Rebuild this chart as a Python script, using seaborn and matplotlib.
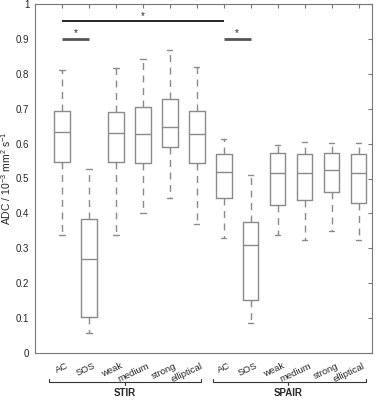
import matplotlib
matplotlib.use("Agg")
import matplotlib.pyplot as plt
import matplotlib.transforms as mtransforms
import seaborn as sns

categories = ["AC", "SOS", "weak", "medium", "strong", "elliptical",
              "AC", "SOS", "weak", "medium", "strong", "elliptical"]
groups = ["STIR", "SPAIR"]
whisker_hi = [0.812, 0.527, 0.817, 0.842, 0.868, 0.820,
              0.612, 0.509, 0.597, 0.605, 0.603, 0.601]
q3 = [0.693, 0.385, 0.690, 0.706, 0.727, 0.692,
      0.571, 0.374, 0.572, 0.570, 0.572, 0.569]
median = [0.632, 0.268, 0.629, 0.627, 0.647, 0.627,
          0.518, 0.309, 0.517, 0.515, 0.523, 0.517]
q1 = [0.546, 0.104, 0.546, 0.545, 0.591, 0.545,
      0.443, 0.151, 0.423, 0.437, 0.460, 0.429]
whisker_lo = [0.338, 0.058, 0.338, 0.402, 0.443, 0.369,
              0.330, 0.086, 0.337, 0.324, 0.349, 0.324]
yticks = [0, 0.1, 0.2, 0.3, 0.4, 0.5, 0.6, 0.7, 0.8, 0.9, 1.0]

sns.set_style("white")
plt.rcParams["font.family"] = ["Liberation Sans", "DejaVu Sans"]
plt.rcParams["mathtext.fontset"] = "custom"
plt.rcParams["mathtext.rm"] = "Liberation Sans"
plt.rcParams["mathtext.it"] = "Liberation Sans"

fig = plt.figure(figsize=(3.8, 4.0), dpi=100)
ax = fig.add_axes([35/380, 47/400, 337/380, 349/400])

gray = "#8a8a8a"
stats = []
for i in range(len(categories)):
    stats.append(dict(whislo=whisker_lo[i], q1=q1[i], med=median[i],
                      q3=q3[i], whishi=whisker_hi[i], fliers=[]))
ax.bxp(stats, positions=list(range(len(categories))), widths=0.58,
       showfliers=False, patch_artist=False,
       boxprops=dict(color=gray, linewidth=1.0),
       medianprops=dict(color=gray, linewidth=1.0),
       whiskerprops=dict(color=gray, linewidth=1.0, linestyle=(0, (5, 4))),
       capprops=dict(color=gray, linewidth=1.0),
       capwidths=0.2)

ax.set_xlim(-1, 11.5)
ax.set_ylim(0, 1)
ax.set_yticks(yticks)
ax.set_yticklabels(["0", "0.1", "0.2", "0.3", "0.4", "0.5", "0.6", "0.7", "0.8", "0.9", "1"], fontsize=7)
ax.set_xticks(range(len(categories)))
ax.set_xticklabels(categories, rotation=25, ha="right", va="top",
                   rotation_mode="anchor", fontsize=6.8)
ax.tick_params(axis="both", direction="in", length=3, color="#777777",
               top=True, right=True)
ax.tick_params(axis="x", pad=6)
ax.tick_params(axis="y", pad=4, labelsize=7)
offset = mtransforms.ScaledTranslation(4 / 100, 0, fig.dpi_scale_trans)
for lbl in ax.get_xticklabels():
    lbl.set_transform(lbl.get_transform() + offset)
for s in ax.spines.values():
    s.set_color("#777777")
    s.set_linewidth(0.8)
ax.set_ylabel("ADC / 10$^{-3}$ mm$^{2}$ s$^{-1}$", fontsize=7.5, labelpad=2)

# significance bars
ax.plot([0, 6], [0.95, 0.95], color="black", linewidth=1.2, solid_capstyle="butt")
ax.text(3, 0.952, "*", ha="center", va="bottom", fontsize=7)
ax.plot([0, 1], [0.90, 0.90], color="#555555", linewidth=2, solid_capstyle="butt")
ax.text(0.5, 0.902, "*", ha="center", va="bottom", fontsize=7)
ax.plot([6, 7], [0.90, 0.90], color="#555555", linewidth=2, solid_capstyle="butt")
ax.text(6.5, 0.902, "*", ha="center", va="bottom", fontsize=7)

# group brackets below axis
trans = ax.get_xaxis_transform()
brackets = [(-0.49, 5.15, 2.33), (5.6, 11.28, 8.4)]
yb = -(382 - 353) / 349
for (x0, x1, xc), g in zip(brackets, groups):
    ax.plot([x0, x0, x1, x1], [yb + 0.009, yb, yb, yb + 0.009], color="#333333",
            linewidth=0.8, transform=trans, clip_on=False)
    ax.plot([xc, xc], [yb, yb - 0.009], color="#333333", linewidth=0.8,
            transform=trans, clip_on=False)
    ax.text(xc, -(387.5 - 353) / 349, g, ha="center", va="top", fontsize=7,
            fontweight="bold", transform=trans)

fig.savefig("out.png", dpi=100)
